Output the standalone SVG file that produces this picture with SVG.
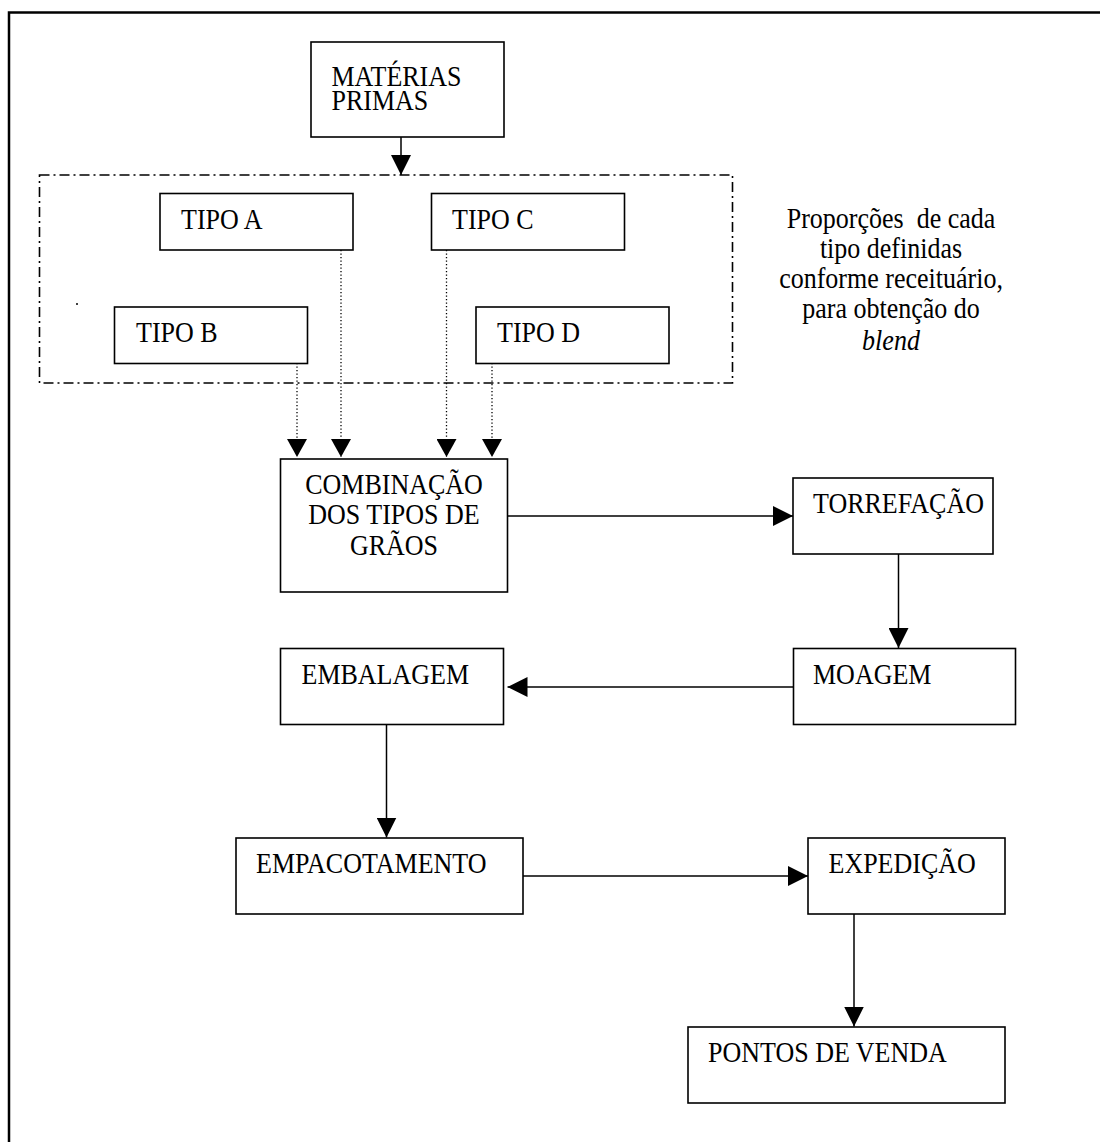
<svg xmlns="http://www.w3.org/2000/svg" width="1100" height="1142" viewBox="0 0 1100 1142">
  <defs>
    <style>
      .box { fill: #fff; stroke: #000; stroke-width: 1.6; }
      .lbl { font-family: "Liberation Serif", "Times New Roman", serif; font-size: 26px; fill: #000; }
      .mid { text-anchor: middle; }
      .flow { fill: none; stroke: #000; stroke-width: 1.5; }
      .dot { fill: none; stroke: #000; stroke-width: 1.3; stroke-dasharray: 1.3 2.2; }
      .group { fill: none; stroke: #000; stroke-width: 1.6; stroke-dasharray: 10 4 2 4; }
    </style>
    <marker id="head" viewBox="0 0 20 20" markerWidth="20" markerHeight="20" refX="20" refY="10" orient="auto" markerUnits="userSpaceOnUse">
      <path d="M0,0 L20,10 L0,20 Z" fill="#000"/>
    </marker>
    <marker id="headS" viewBox="0 0 18 20" markerWidth="18" markerHeight="20" refX="18" refY="10" orient="auto" markerUnits="userSpaceOnUse">
      <path d="M0,0 L18,10 L0,20 Z" fill="#000"/>
    </marker>
  </defs>

  <rect width="1100" height="1142" fill="#fff"/>

  <!-- page frame, runs off the right and bottom edges -->
  <rect x="9" y="12.5" width="1200" height="1200" fill="none" stroke="#000" stroke-width="2.5"/>

  <!-- dash-dot grouping of the bean types -->
  <rect id="tipos-grupo" class="group" x="39.5" y="175" width="693" height="208"/>
  <circle cx="77" cy="304" r="1" fill="#000"/>

  <g id="connectors">
    <line class="flow" x1="401" y1="137" x2="401" y2="175" marker-end="url(#head)"/>
    <line class="dot" x1="341" y1="250" x2="341" y2="457" marker-end="url(#headS)"/>
    <line class="dot" x1="446.5" y1="250" x2="446.5" y2="457" marker-end="url(#headS)"/>
    <line class="dot" x1="297" y1="363" x2="297" y2="457" marker-end="url(#headS)"/>
    <line class="dot" x1="492" y1="363" x2="492" y2="457" marker-end="url(#headS)"/>
    <line class="flow" x1="508" y1="516" x2="793" y2="516" marker-end="url(#head)"/>
    <line class="flow" x1="898.5" y1="554" x2="898.5" y2="648" marker-end="url(#head)"/>
    <line class="flow" x1="793.5" y1="687" x2="507.5" y2="687" marker-end="url(#head)"/>
    <line class="flow" x1="386.5" y1="724" x2="386.5" y2="837.5" marker-end="url(#head)"/>
    <line class="flow" x1="523" y1="876" x2="808" y2="876" marker-end="url(#head)"/>
    <line class="flow" x1="854" y1="914" x2="854" y2="1026.5" marker-end="url(#head)"/>
  </g>

  <!-- labels are set slightly tall: each is placed at its baseline and stretched 1.1 vertically -->
  <g id="materias-primas">
    <rect class="box" x="311" y="42" width="193" height="95"/>
    <text class="lbl" transform="translate(331.5 85.5) scale(1 1.1)">MATÉRIAS</text>
    <text class="lbl" transform="translate(331.5 110) scale(1 1.1)">PRIMAS</text>
  </g>

  <g id="tipo-a">
    <rect class="box" x="160" y="193.5" width="193" height="56.5"/>
    <text class="lbl" transform="translate(181 229) scale(1 1.1)">TIPO A</text>
  </g>

  <g id="tipo-c">
    <rect class="box" x="431.5" y="193.5" width="193" height="56.5"/>
    <text class="lbl" transform="translate(452 229) scale(1 1.1)">TIPO C</text>
  </g>

  <g id="tipo-b">
    <rect class="box" x="114.5" y="307" width="193" height="56.5"/>
    <text class="lbl" transform="translate(136 342) scale(1 1.1)">TIPO B</text>
  </g>

  <g id="tipo-d">
    <rect class="box" x="476" y="307" width="193" height="56.5"/>
    <text class="lbl" transform="translate(497 342) scale(1 1.1)">TIPO D</text>
  </g>

  <g id="nota-proporcoes">
    <text class="lbl mid" transform="translate(891 228) scale(1 1.1)" xml:space="preserve">Proporções  de cada</text>
    <text class="lbl mid" transform="translate(891 258) scale(1 1.1)">tipo definidas</text>
    <text class="lbl mid" transform="translate(891 288) scale(1 1.1)">conforme receituário,</text>
    <text class="lbl mid" transform="translate(891 318) scale(1 1.1)">para obtenção do</text>
    <text class="lbl mid" transform="translate(891 350) scale(1 1.1)" font-style="italic">blend</text>
  </g>

  <g id="combinacao">
    <rect class="box" x="280.5" y="459" width="227" height="133"/>
    <text class="lbl mid" transform="translate(394 494) scale(1 1.1)">COMBINAÇÃO</text>
    <text class="lbl mid" transform="translate(394 524) scale(1 1.1)">DOS TIPOS DE</text>
    <text class="lbl mid" transform="translate(394 555) scale(1 1.1)">GRÃOS</text>
  </g>

  <g id="torrefacao">
    <rect class="box" x="793" y="478" width="200" height="76"/>
    <text class="lbl" transform="translate(813 513) scale(1 1.1)">TORREFAÇÃO</text>
  </g>

  <g id="moagem">
    <rect class="box" x="793.5" y="648.5" width="222" height="76"/>
    <text class="lbl" transform="translate(813 684) scale(1 1.1)">MOAGEM</text>
  </g>

  <g id="embalagem">
    <rect class="box" x="280.5" y="648.5" width="223" height="76"/>
    <text class="lbl" transform="translate(301.5 684) scale(1 1.1)">EMBALAGEM</text>
  </g>

  <g id="empacotamento">
    <rect class="box" x="236" y="838" width="287" height="76"/>
    <text class="lbl" transform="translate(256 873) scale(1 1.1)">EMPACOTAMENTO</text>
  </g>

  <g id="expedicao">
    <rect class="box" x="808" y="838" width="197" height="76"/>
    <text class="lbl" transform="translate(828.5 873) scale(1 1.1)">EXPEDIÇÃO</text>
  </g>

  <g id="pontos-de-venda">
    <rect class="box" x="688" y="1027" width="317" height="76"/>
    <text class="lbl" transform="translate(708 1062) scale(1 1.1)">PONTOS DE VENDA</text>
  </g>
</svg>
